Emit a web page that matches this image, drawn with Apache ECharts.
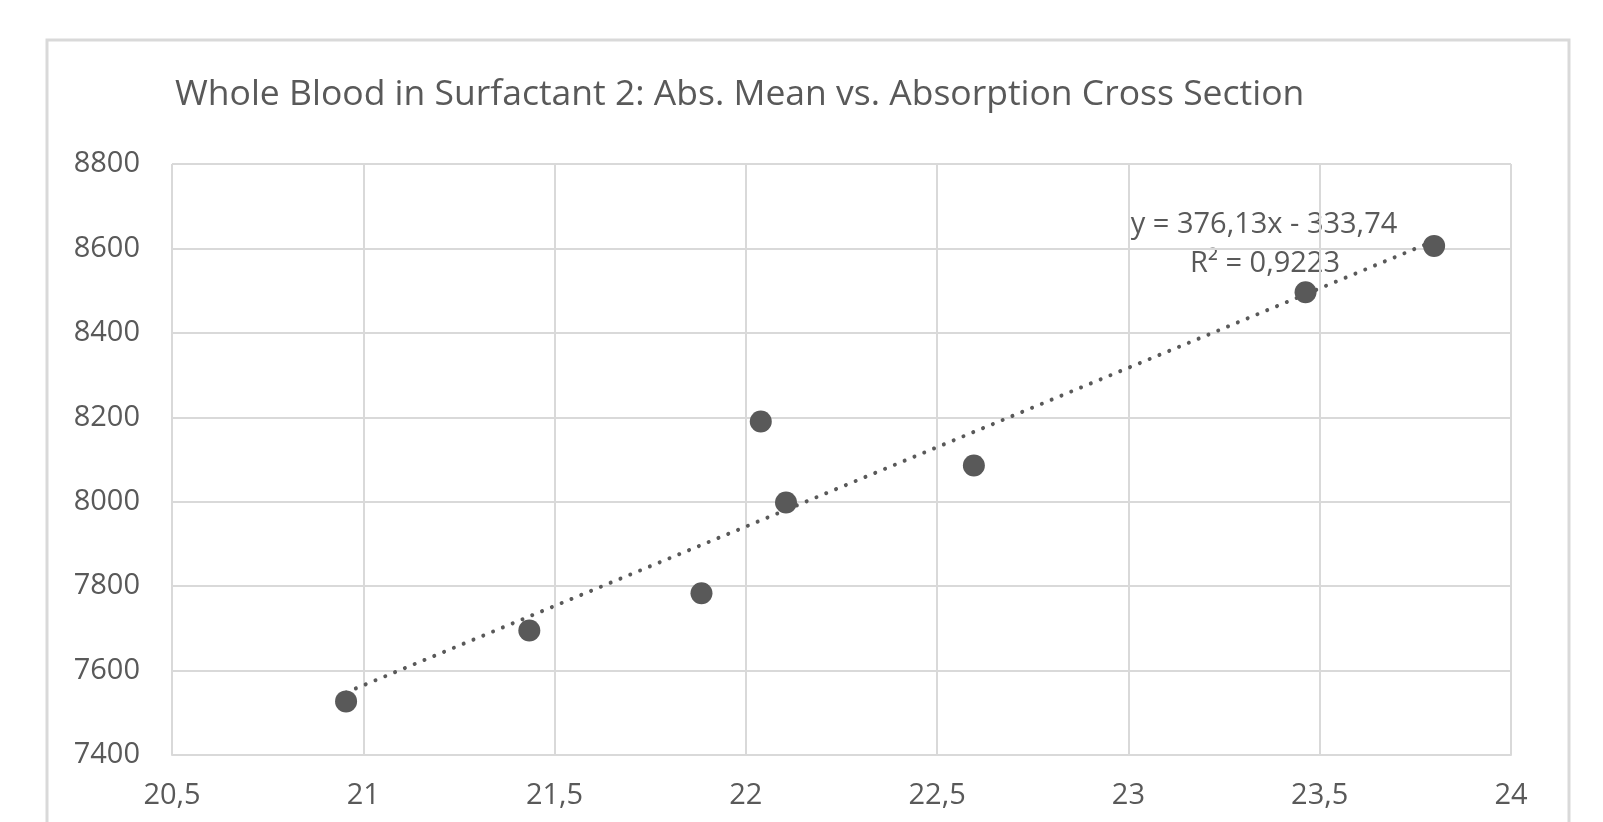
<!DOCTYPE html>
<html>
<head>
<meta charset="utf-8">
<script src="https://cdn.jsdelivr.net/npm/echarts@6/dist/echarts.min.js"></script>
<style>
html,body{margin:0;padding:0;background:#fff;}
#c{width:1603px;height:822px;}
</style>
</head>
<body>
<div id="c"></div>
<script>
const titleText = 'Whole Blood in Surfactant 2: Abs. Mean vs. Absorption Cross Section';
const xValues = [20.955, 21.434, 21.884, 22.039, 22.105, 22.596, 23.463, 23.799];
const yValues = [7527, 7695, 7783, 8190, 7998, 8086, 8496, 8606];
const trendSlope = 376.13;
const trendIntercept = -333.74;
const trendLabel1 = 'y = 376,13x - 333,74';
const trendLabel2 = 'R² = 0,9223';

const points = xValues.map((x, i) => [x, yValues[i]]);
const xMin = Math.min(...xValues), xMax = Math.max(...xValues);
const trend = [[xMin, trendSlope * xMin + trendIntercept], [xMax, trendSlope * xMax + trendIntercept]];

const fmt = v => String(v).replace('.', ',');
const font = '"Open Sans", "Liberation Sans", sans-serif';

const chart = echarts.init(document.getElementById('c'));
chart.setOption({
  backgroundColor: '#fff',
  animation: false,
  grid: { left: 172, right: 92, top: 164, bottom: 67 },
  xAxis: {
    type: 'value', min: 20.5, max: 24, interval: 0.5,
    axisLine: { show: true, lineStyle: { color: '#d9d9d9', width: 2 } },
    axisTick: { show: false },
    splitLine: { show: true, lineStyle: { color: '#d9d9d9', width: 2 } },
    axisLabel: { formatter: fmt, margin: 26, fontFamily: font, fontSize: 29, color: '#595959' }
  },
  yAxis: {
    type: 'value', min: 7400, max: 8800, interval: 200,
    axisLine: { show: false },
    axisTick: { show: false },
    splitLine: { show: true, lineStyle: { color: '#d9d9d9', width: 2 } },
    axisLabel: { formatter: v => String(v), margin: 32, fontFamily: font, fontSize: 29, color: '#595959' }
  },
  series: [
    {
      type: 'line', data: trend, symbol: 'none', silent: true, z: 1,
      lineStyle: { color: '#595959', width: 4, type: [0.01, 10.6], cap: 'round' }
    },
    {
      type: 'scatter', data: points, symbol: 'circle', symbolSize: 22, z: 2,
      itemStyle: { color: '#595959', opacity: 1 }
    }
  ],
  graphic: [
    {
      type: 'rect', shape: { x: 47, y: 40, width: 1522, height: 800 },
      style: { fill: 'none', stroke: '#d9d9d9', lineWidth: 3 }, z: -1
    },
    {
      type: 'text', x: 175, y: 95,
      style: { text: titleText, fill: '#595959', font: '35.5px ' + font, align: 'left', verticalAlign: 'middle' }
    },
    {
      type: 'text', x: 1264, y: 224.5,
      style: { text: trendLabel1, fill: '#595959', font: '29px ' + font, align: 'center', verticalAlign: 'middle' }
    },
    {
      type: 'text', x: 1265, y: 263.5,
      style: { text: trendLabel2, fill: '#595959', font: '29px ' + font, align: 'center', verticalAlign: 'middle' }
    }
  ]
});
</script>
</body>
</html>
